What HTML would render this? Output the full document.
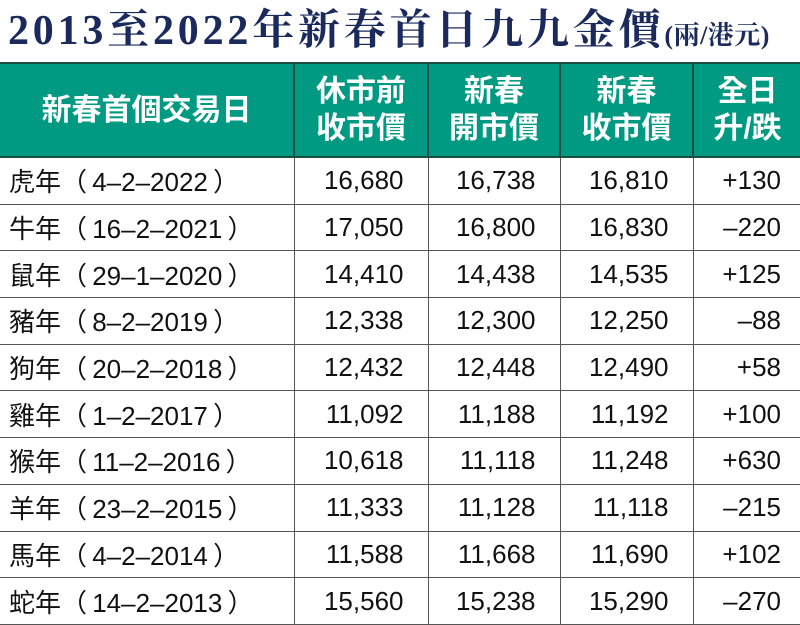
<!DOCTYPE html>
<html><head><meta charset="utf-8"><style>
body{margin:0;width:800px;height:625px;background:#fff;overflow:hidden;position:relative}
.title{position:absolute;left:0;top:0;width:800px;height:62px;font-family:"Liberation Serif","Noto Serif CJK SC",serif;font-weight:bold;color:#1b2a5c;font-size:42px;line-height:62px;padding-left:8px;white-space:nowrap;letter-spacing:3.8px}
.title small{font-size:26px;letter-spacing:0.5px}
table{position:absolute;left:0;top:62px;border-collapse:collapse;width:801px;table-layout:fixed;font-family:"Liberation Sans","Noto Sans CJK TC",sans-serif}
th{background:#009a82;color:#fff;font-size:30px;font-weight:bold;line-height:37px;height:92px;border-left:2px solid #1c4d40;border-top:2px solid #1c4d40;border-bottom:2px solid #1c4d40;padding:0;text-align:center}
th:first-child{border-left:none}
td{height:45.7px;border-bottom:1.5px solid #555;border-left:1.5px solid #555;font-size:26px;color:#111;padding:0 24px 0 0;text-align:right;white-space:nowrap}
td:first-child{text-align:left;padding:0 0 0 9px;border-left:none;font-size:26px}
td:last-child{padding-right:20px}
</style></head><body>
<div class="title">2013至2022年新春首日九九金價<small>(兩/港元)</small></div>
<table>
<colgroup><col style="width:294px"><col style="width:134px"><col style="width:132px"><col style="width:133px"><col style="width:108px"></colgroup>
<tr><th>新春首個交易日</th><th>休市前<br>收市價</th><th>新春<br>開市價</th><th>新春<br>收市價</th><th>全日<br>升/跌</th></tr>
<tr><td>虎年（&#8201;4–2–2022&#8201;）</td><td>16,680</td><td>16,738</td><td>16,810</td><td>+130</td></tr>
<tr><td>牛年（&#8201;16–2–2021&#8201;）</td><td>17,050</td><td>16,800</td><td>16,830</td><td>–220</td></tr>
<tr><td>鼠年（&#8201;29–1–2020&#8201;）</td><td>14,410</td><td>14,438</td><td>14,535</td><td>+125</td></tr>
<tr><td>豬年（&#8201;8–2–2019&#8201;）</td><td>12,338</td><td>12,300</td><td>12,250</td><td>–88</td></tr>
<tr><td>狗年（&#8201;20–2–2018&#8201;）</td><td>12,432</td><td>12,448</td><td>12,490</td><td>+58</td></tr>
<tr><td>雞年（&#8201;1–2–2017&#8201;）</td><td>11,092</td><td>11,188</td><td>11,192</td><td>+100</td></tr>
<tr><td>猴年（&#8201;11–2–2016&#8201;）</td><td>10,618</td><td>11,118</td><td>11,248</td><td>+630</td></tr>
<tr><td>羊年（&#8201;23–2–2015&#8201;）</td><td>11,333</td><td>11,128</td><td>11,118</td><td>–215</td></tr>
<tr><td>馬年（&#8201;4–2–2014&#8201;）</td><td>11,588</td><td>11,668</td><td>11,690</td><td>+102</td></tr>
<tr><td>蛇年（&#8201;14–2–2013&#8201;）</td><td>15,560</td><td>15,238</td><td>15,290</td><td>–270</td></tr>
</table>
</body></html>
